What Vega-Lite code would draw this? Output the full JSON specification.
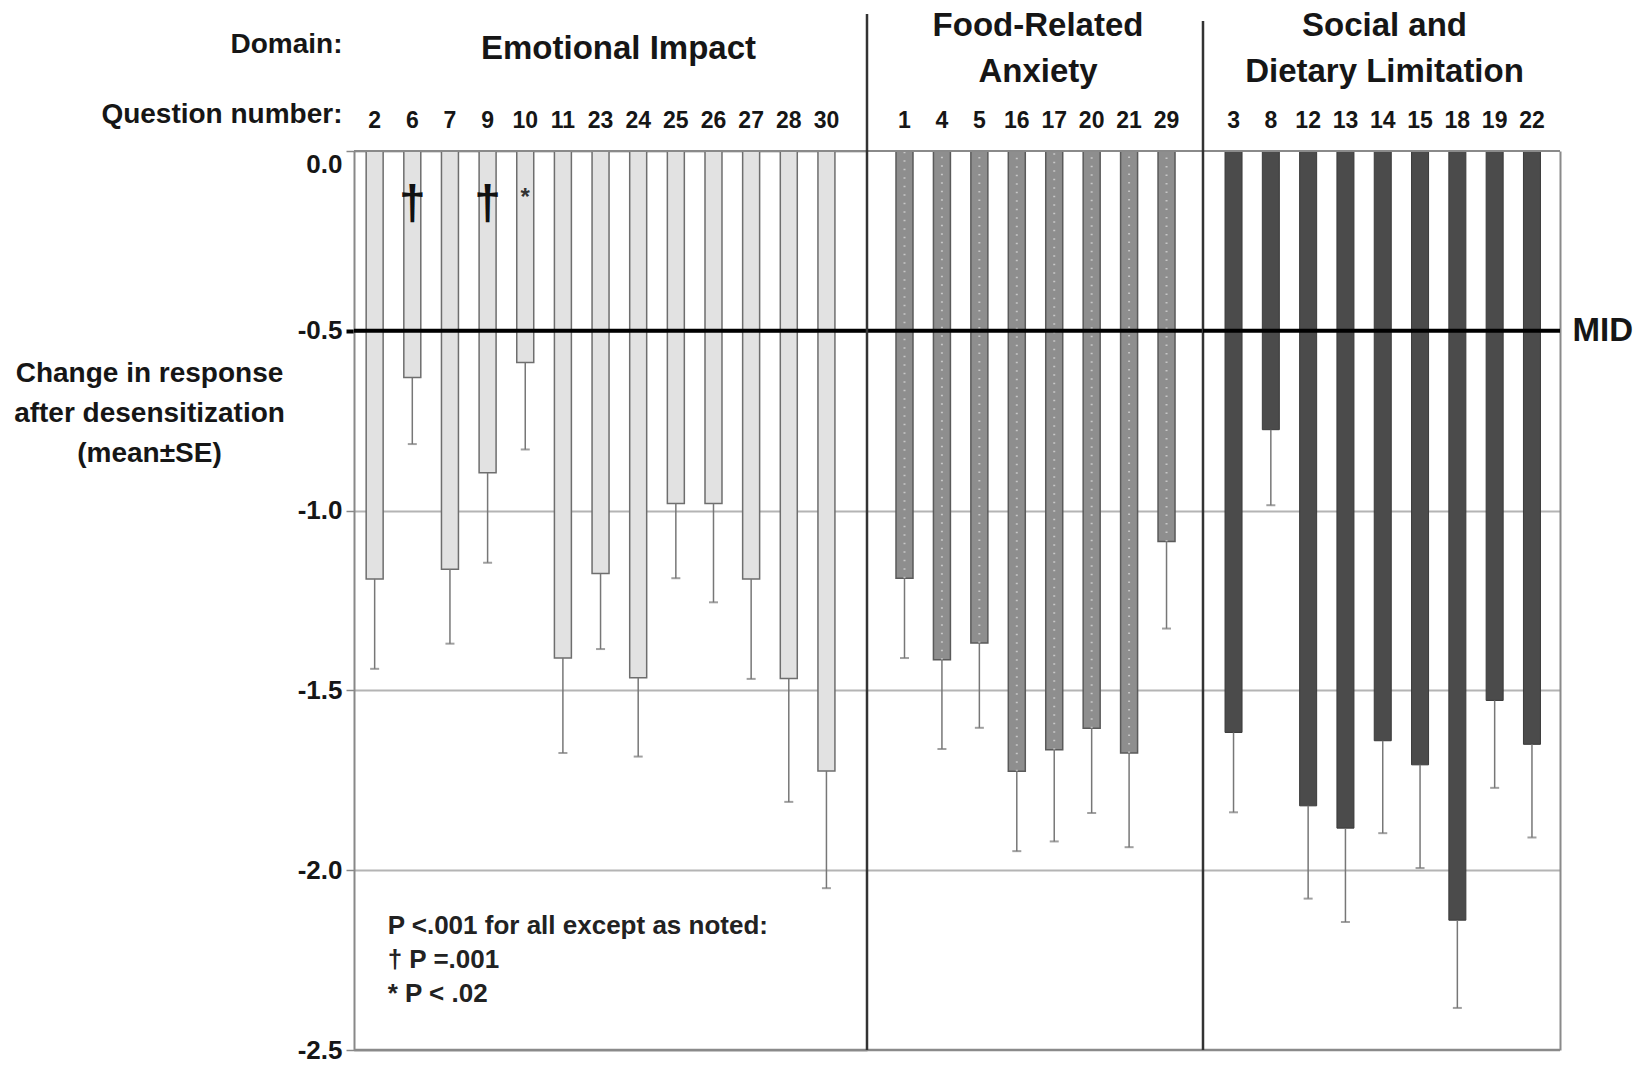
{
  "$schema": "https://vega.github.io/schema/vega-lite/v6.json",
  "background": "white",
  "padding": {"left": 13, "top": 10, "right": 5, "bottom": 8},
  "bounds": "flush",
  "spacing": 0,
  "config": {
    "font": "Liberation Sans",
    "view": {"stroke": null},
    "axis": {"labelColor": "#161616", "titleColor": "#161616"},
    "title": {"color": "#161616"},
    "locale": {"number": {"decimal": ".", "thousands": ",", "grouping": [3], "currency": ["$", ""], "minus": "-"}}
  },
  "datasets": {
    "qs": [
      {"domain": "Emotional Impact", "q": "2", "mean": -1.19, "low": -1.44},
      {"domain": "Emotional Impact", "q": "6", "mean": -0.63, "low": -0.815},
      {"domain": "Emotional Impact", "q": "7", "mean": -1.163, "low": -1.37},
      {"domain": "Emotional Impact", "q": "9", "mean": -0.895, "low": -1.145},
      {"domain": "Emotional Impact", "q": "10", "mean": -0.588, "low": -0.83},
      {"domain": "Emotional Impact", "q": "11", "mean": -1.41, "low": -1.674},
      {"domain": "Emotional Impact", "q": "23", "mean": -1.175, "low": -1.385},
      {"domain": "Emotional Impact", "q": "24", "mean": -1.465, "low": -1.684},
      {"domain": "Emotional Impact", "q": "25", "mean": -0.98, "low": -1.188},
      {"domain": "Emotional Impact", "q": "26", "mean": -0.98, "low": -1.255},
      {"domain": "Emotional Impact", "q": "27", "mean": -1.19, "low": -1.468},
      {"domain": "Emotional Impact", "q": "28", "mean": -1.467, "low": -1.81},
      {"domain": "Emotional Impact", "q": "30", "mean": -1.724, "low": -2.05},
      {"domain": "Food-Related Anxiety", "q": "1", "mean": -1.188, "low": -1.41},
      {"domain": "Food-Related Anxiety", "q": "4", "mean": -1.415, "low": -1.663},
      {"domain": "Food-Related Anxiety", "q": "5", "mean": -1.368, "low": -1.604},
      {"domain": "Food-Related Anxiety", "q": "16", "mean": -1.725, "low": -1.947},
      {"domain": "Food-Related Anxiety", "q": "17", "mean": -1.665, "low": -1.92},
      {"domain": "Food-Related Anxiety", "q": "20", "mean": -1.605, "low": -1.841},
      {"domain": "Food-Related Anxiety", "q": "21", "mean": -1.674, "low": -1.936},
      {"domain": "Food-Related Anxiety", "q": "29", "mean": -1.086, "low": -1.328},
      {"domain": "Social and Dietary Limitation", "q": "3", "mean": -1.617, "low": -1.839},
      {"domain": "Social and Dietary Limitation", "q": "8", "mean": -0.775, "low": -0.985},
      {"domain": "Social and Dietary Limitation", "q": "12", "mean": -1.821, "low": -2.079},
      {"domain": "Social and Dietary Limitation", "q": "13", "mean": -1.883, "low": -2.144},
      {"domain": "Social and Dietary Limitation", "q": "14", "mean": -1.64, "low": -1.897},
      {"domain": "Social and Dietary Limitation", "q": "15", "mean": -1.707, "low": -1.994},
      {"domain": "Social and Dietary Limitation", "q": "18", "mean": -2.139, "low": -2.383},
      {"domain": "Social and Dietary Limitation", "q": "19", "mean": -1.528, "low": -1.771},
      {"domain": "Social and Dietary Limitation", "q": "22", "mean": -1.65, "low": -1.909}
    ],
    "daggers": [{"q": "6", "mark": "†"}, {"q": "9", "mark": "†"}],
    "stars": [{"q": "10", "mark": "*"}],
    "one": [{}]
  },
  "hconcat": [
    {
      "width": 513,
      "height": 899,
      "title": {"text": "Emotional Impact", "fontSize": 33, "fontWeight": "bold", "anchor": "middle", "frame": "group", "baseline": "bottom", "offset": -85.4, "dx": 8},
      "layer": [
        {
          "data": {"name": "qs"},
          "transform": [{"filter": "datum.domain === 'Emotional Impact'"}],
          "mark": {"type": "bar", "fill": "#e2e2e2", "stroke": "#6e6e6e", "strokeWidth": 1.5},
          "encoding": {
            "x": {
              "field": "q", "type": "nominal",
              "scale": {"domain": ["2","6","7","9","10","11","23","24","25","26","27","28","30"], "paddingInner": 0.549, "paddingOuter": 0.5875, "align": 0.275},
              "axis": {
                "orient": "top", "labelAngle": 0, "ticks": false, "domain": false, "labelPadding": 19,
                "labelFontSize": 23, "labelFontWeight": "bold",
                "title": ["Domain:", "Question number:"], "titleFontSize": 28, "titleFontWeight": "bold",
                "titleAngle": 0, "titleAlign": "right", "titleBaseline": "middle", "titleX": -12, "titleY": -106.5, "titleLineHeight": 70
              }
            },
            "y": {
              "field": "mean", "type": "quantitative",
              "scale": {"domain": [-2.5, 0], "nice": false},
              "axis": {
                "orient": "left", "values": [0, -0.5, -1, -1.5, -2, -2.5], "format": ".1f",
                "labelFontSize": 26, "labelFontWeight": "bold", "labelPadding": 4,
                "labelBaseline": {"condition": {"test": "datum.value === 0", "value": "top"}, "value": "middle"},
                "tickSize": 8,
                "tickColor": {"condition": {"test": "datum.value === -0.5", "value": "#000000"}, "value": "#888888"},
                "tickWidth": {"condition": {"test": "datum.value === -0.5", "value": 4}, "value": 1.5},
                "domainColor": "#888888", "domainWidth": 2,
                "grid": true, "gridColor": "#b4b4b4", "gridWidth": 2,
                "title": ["Change in response", "after desensitization", "(mean±SE)"],
                "titleAngle": 0, "titleAlign": "center", "titleBaseline": "middle", "titleX": -205, "titleY": 222.5,
                "titleFontSize": 28, "titleFontWeight": "bold", "titleLineHeight": 40
              }
            }
          }
        },
        {
          "data": {"name": "qs"},
          "transform": [{"filter": "datum.domain === 'Emotional Impact'"}],
          "mark": {"type": "rule", "color": "#777777", "strokeWidth": 1.5},
          "encoding": {"x": {"field": "q", "type": "nominal"}, "y": {"field": "mean", "type": "quantitative"}, "y2": {"field": "low"}}
        },
        {
          "data": {"name": "qs"},
          "transform": [{"filter": "datum.domain === 'Emotional Impact'"}],
          "mark": {"type": "tick", "color": "#777777", "thickness": 2, "size": 9},
          "encoding": {"x": {"field": "q", "type": "nominal"}, "y": {"field": "low", "type": "quantitative"}}
        },
        {"data": {"name": "one"}, "mark": {"type": "rule", "color": "#8a8a8a", "strokeWidth": 2}, "encoding": {"y": {"datum": 0}}},
        {"data": {"name": "one"}, "mark": {"type": "rule", "color": "#8a8a8a", "strokeWidth": 2.5}, "encoding": {"y": {"datum": -2.5}}},
        {"data": {"name": "one"}, "mark": {"type": "rule", "color": "#000000", "strokeWidth": 4}, "encoding": {"y": {"datum": -0.5}}},
        {"data": {"name": "one"}, "mark": {"type": "rule", "color": "#ffffff", "opacity": 0, "strokeWidth": 2.5}, "encoding": {"x": {"datum": "2"}, "y": {"datum": -2.5}, "y2": {"datum": 0.381}}},
        {
          "data": {"name": "daggers"},
          "mark": {"type": "text", "fontSize": 48, "fontWeight": "bold", "color": "#111111", "baseline": "middle", "align": "center"},
          "encoding": {"x": {"field": "q", "type": "nominal"}, "y": {"datum": -0.15}, "text": {"field": "mark"}}
        },
        {
          "data": {"name": "stars"},
          "mark": {"type": "text", "fontSize": 24, "fontWeight": "bold", "color": "#333333", "baseline": "middle", "align": "center"},
          "encoding": {"x": {"field": "q", "type": "nominal"}, "y": {"datum": -0.13}, "text": {"field": "mark"}}
        },
        {
          "data": {"name": "one"},
          "mark": {"type": "text", "text": ["P <.001 for all except as noted:", "† P =.001", "* P < .02"], "fontSize": 26, "fontWeight": "bold", "color": "#222222", "align": "left", "baseline": "middle", "lineHeight": 34, "dx": 13},
          "encoding": {"x": {"datum": "2"}, "y": {"datum": -2.156}}
        }
      ]
    },
    {
      "width": 336,
      "height": 899,
      "title": {"text": ["Food-Related", "Anxiety"], "fontSize": 33, "fontWeight": "bold", "anchor": "middle", "frame": "group", "baseline": "bottom", "lineHeight": 46, "offset": -109.4, "dx": 3},
      "layer": [
        {
          "data": {"name": "qs"},
          "transform": [{"filter": "datum.domain === 'Food-Related Anxiety'"}],
          "mark": {"type": "bar", "fill": "#8e8e8e", "stroke": "#5a5a5a", "strokeWidth": 1.5},
          "encoding": {
            "x": {
              "field": "q", "type": "nominal",
              "scale": {"domain": ["1","4","5","16","17","20","21","29"], "paddingInner": 0.546, "paddingOuter": 0.761, "align": 0.509},
              "axis": {"orient": "top", "labelAngle": 0, "ticks": false, "domain": false, "labelPadding": 19, "labelFontSize": 23, "labelFontWeight": "bold", "title": null}
            },
            "y": {
              "field": "mean", "type": "quantitative",
              "scale": {"domain": [-2.5, 0], "nice": false},
              "axis": {"orient": "left", "values": [-1, -1.5, -2], "labels": false, "ticks": false, "domain": false, "grid": true, "gridColor": "#b4b4b4", "gridWidth": 2, "title": null}
            }
          }
        },
        {
          "data": {"name": "qs"},
          "transform": [{"filter": "datum.domain === 'Food-Related Anxiety'"}],
          "mark": {"type": "rule", "color": "#ffffff", "strokeWidth": 2, "strokeDash": [1.5, 7], "opacity": 0.5},
          "encoding": {"x": {"field": "q", "type": "nominal"}, "y": {"field": "mean", "type": "quantitative"}, "y2": {"datum": 0}}
        },
        {
          "data": {"name": "qs"},
          "transform": [{"filter": "datum.domain === 'Food-Related Anxiety'"}],
          "mark": {"type": "rule", "color": "#777777", "strokeWidth": 1.5},
          "encoding": {"x": {"field": "q", "type": "nominal"}, "y": {"field": "mean", "type": "quantitative"}, "y2": {"field": "low"}}
        },
        {
          "data": {"name": "qs"},
          "transform": [{"filter": "datum.domain === 'Food-Related Anxiety'"}],
          "mark": {"type": "tick", "color": "#777777", "thickness": 2, "size": 9},
          "encoding": {"x": {"field": "q", "type": "nominal"}, "y": {"field": "low", "type": "quantitative"}}
        },
        {"data": {"name": "one"}, "mark": {"type": "rule", "color": "#8a8a8a", "strokeWidth": 2}, "encoding": {"y": {"datum": 0}}},
        {"data": {"name": "one"}, "mark": {"type": "rule", "color": "#8a8a8a", "strokeWidth": 2.5}, "encoding": {"y": {"datum": -2.5}}},
        {"data": {"name": "one"}, "mark": {"type": "rule", "color": "#000000", "strokeWidth": 4}, "encoding": {"y": {"datum": -0.5}}},
        {"data": {"name": "one"}, "mark": {"type": "rule", "color": "#333333", "strokeWidth": 2.5}, "encoding": {"x": {"datum": "1", "bandPosition": -1.7064}, "y": {"datum": -2.5}, "y2": {"datum": 0.381}}}
      ]
    },
    {
      "width": 357,
      "height": 899,
      "title": {"text": ["Social and", "Dietary Limitation"], "fontSize": 33, "fontWeight": "bold", "anchor": "middle", "frame": "group", "baseline": "bottom", "lineHeight": 46, "offset": -102.4, "dx": 3},
      "resolve": {"axis": {"y": "independent"}},
      "layer": [
        {
          "layer": [
            {
              "data": {"name": "qs"},
              "transform": [{"filter": "datum.domain === 'Social and Dietary Limitation'"}],
              "mark": {"type": "bar", "fill": "#4b4b4b", "stroke": "#3a3a3a", "strokeWidth": 1},
              "encoding": {
                "x": {
                  "field": "q", "type": "nominal",
                  "scale": {"domain": ["3","8","12","13","14","15","18","19","22"], "paddingInner": 0.544, "paddingOuter": 0.557, "align": 0.53},
                  "axis": {"orient": "top", "labelAngle": 0, "ticks": false, "domain": false, "labelPadding": 19, "labelFontSize": 23, "labelFontWeight": "bold", "title": null}
                },
                "y": {
                  "field": "mean", "type": "quantitative",
                  "scale": {"domain": [-2.5, 0], "nice": false},
                  "axis": {"orient": "left", "values": [-1, -1.5, -2], "labels": false, "ticks": false, "domain": false, "grid": true, "gridColor": "#b4b4b4", "gridWidth": 2, "title": null}
                }
              }
            },
            {
              "data": {"name": "qs"},
              "transform": [{"filter": "datum.domain === 'Social and Dietary Limitation'"}],
              "mark": {"type": "rule", "color": "#777777", "strokeWidth": 1.5},
              "encoding": {"x": {"field": "q", "type": "nominal"}, "y": {"field": "mean", "type": "quantitative"}, "y2": {"field": "low"}}
            },
            {
              "data": {"name": "qs"},
              "transform": [{"filter": "datum.domain === 'Social and Dietary Limitation'"}],
              "mark": {"type": "tick", "color": "#777777", "thickness": 2, "size": 9},
              "encoding": {"x": {"field": "q", "type": "nominal"}, "y": {"field": "low", "type": "quantitative"}}
            },
            {"data": {"name": "one"}, "mark": {"type": "rule", "color": "#8a8a8a", "strokeWidth": 2}, "encoding": {"y": {"datum": 0}}},
            {"data": {"name": "one"}, "mark": {"type": "rule", "color": "#8a8a8a", "strokeWidth": 2.5}, "encoding": {"y": {"datum": -2.5}}},
            {"data": {"name": "one"}, "mark": {"type": "rule", "color": "#333333", "strokeWidth": 2.5}, "encoding": {"x": {"datum": "3", "bandPosition": -1.295}, "y": {"datum": -2.5}, "y2": {"datum": 0.3615}}}
          ]
        },
        {
          "data": {"name": "one"},
          "mark": {"type": "rule", "color": "#000000", "strokeWidth": 4},
          "encoding": {
            "y": {
              "datum": -0.5, "type": "quantitative",
              "axis": {
                "orient": "right", "values": [-0.5], "labelExpr": "'MID'", "ticks": false, "labelPadding": 12,
                "labelFontSize": 33, "labelFontWeight": "bold",
                "domainColor": "#8a8a8a", "domainWidth": 2, "grid": false, "title": null
              }
            }
          }
        }
      ]
    }
  ]
}
